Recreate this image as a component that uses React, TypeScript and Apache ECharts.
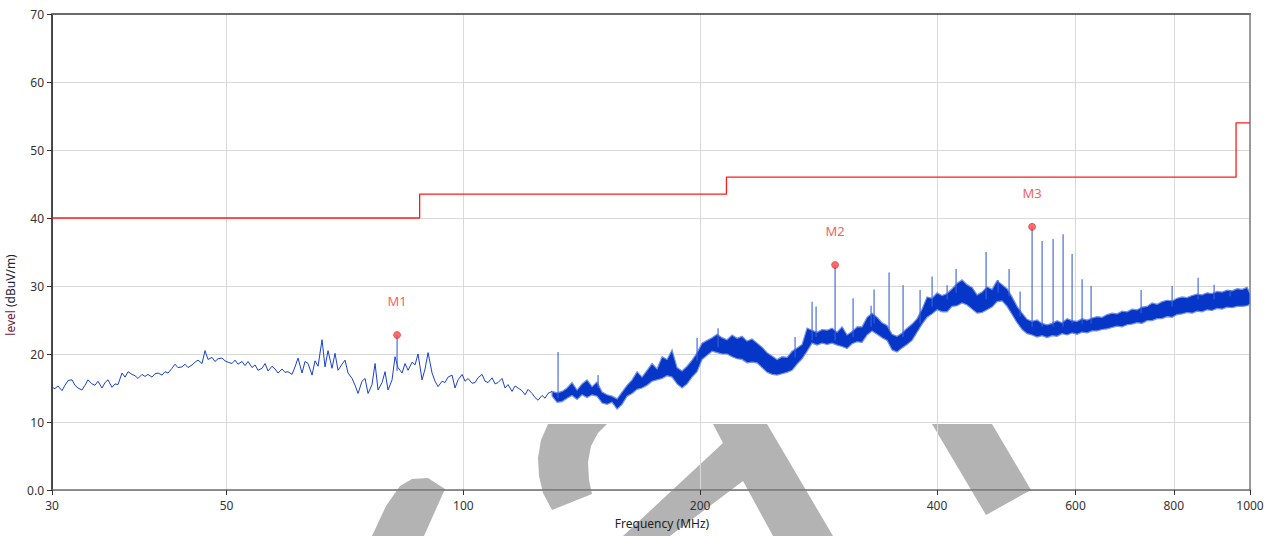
import { useEffect, useRef } from 'react';
import * as echarts from 'echarts';

// ---- axis ticks ----
const xTickValues = [30, 50, 100, 200, 400, 600, 800, 1000];
const yMin = 0;
const yMax = 70;
const yStep = 10;

// ---- limit line (step) ----
const limitFreq = [30, 88, 88, 216, 216, 960, 960, 1000];
const limitLevel = [40, 40, 43.5, 43.5, 46, 46, 54, 54];

// ---- low-frequency trace (thin line), MHz / dBuV/m ----
const traceFreq = [
  30.0, 30.26, 30.53, 30.89, 31.16, 31.44, 31.81, 32.09, 32.37, 32.75, 33.04, 33.33,
  33.73, 34.02, 34.32, 34.73, 35.04, 35.34, 35.76, 36.08, 36.39, 36.82, 37.15, 37.48,
  37.92, 38.25, 38.59, 39.04, 39.39, 39.73, 40.2, 40.56, 40.92, 41.4, 41.76, 42.13,
  42.63, 43.0, 43.38, 43.89, 44.28, 44.67, 45.2, 45.6, 46.0, 46.54, 46.95, 47.36,
  47.92, 48.34, 48.77, 49.35, 49.78, 50.22, 50.81, 51.26, 51.71, 52.32, 52.78, 53.25,
  53.88, 54.35, 54.83, 55.48, 55.97, 56.46, 57.12, 57.63, 58.14, 58.82, 59.34, 59.86,
  60.57, 61.1, 61.64, 62.37, 62.92, 63.47, 64.22, 64.79, 65.36, 66.13, 66.71, 67.3,
  68.09, 68.69, 69.3, 70.12, 70.73, 71.36, 72.2, 72.83, 73.48, 74.34, 75.0, 75.66,
  76.55, 77.23, 77.91, 78.83, 79.52, 80.22, 81.17, 81.88, 82.61, 83.58, 84.31, 85.06,
  86.06, 86.82, 87.58, 88.62, 89.4, 90.19, 91.25, 92.05, 92.87, 93.96, 94.79, 95.62,
  96.75, 97.6, 98.47, 99.63, 100.5, 101.39, 102.58, 103.49, 104.4, 105.63, 106.56, 107.5,
  108.77, 109.73, 110.7, 112.0, 112.99, 113.98, 115.33, 116.35, 117.37, 118.75, 119.8, 120.85,
  122.28, 123.36, 124.45, 125.91, 127.02, 128.14, 129.65
];
const traceLevel = [
  15.1, 14.9, 15.3, 14.6, 15.4, 16.1, 16.2, 15.4, 15.0, 14.7, 15.4, 16.2,
  15.6, 15.4, 16.0, 15.0, 15.8, 16.2, 15.1, 15.6, 15.5, 17.2, 16.6, 17.4,
  17.0, 16.8, 16.4, 17.0, 16.7, 17.0, 16.6, 17.1, 17.2, 16.9, 17.4, 17.2,
  17.9, 18.5, 18.0, 18.1, 18.5, 18.0, 18.4, 18.8, 19.1, 18.6, 20.5, 19.2,
  19.5, 18.9, 19.3, 19.4, 19.0, 18.8, 18.6, 19.1, 18.5, 18.9, 18.3, 18.9,
  18.0, 18.4, 17.6, 17.9, 18.6, 17.5, 18.2, 17.8, 17.2, 17.8, 17.3, 17.4,
  17.0, 18.1, 19.4, 17.2, 18.9, 18.6, 16.9, 19.0, 18.2, 22.1, 18.1, 20.5,
  17.9, 20.1, 17.6, 18.5, 19.1, 17.2, 16.4, 15.4, 14.2, 16.0, 16.4, 14.2,
  15.5, 18.6, 14.7, 15.8, 17.4, 14.7, 16.2, 19.6, 18.0, 17.2, 18.6, 17.6,
  18.8, 18.4, 20.0, 16.2, 17.8, 20.2, 17.2, 16.0, 15.2, 16.0, 15.8, 16.6,
  16.9, 15.0, 16.2, 17.0, 16.0, 16.4, 15.7, 15.8, 16.5, 17.0, 16.0, 15.8,
  16.5, 15.6, 15.8, 16.4, 15.0, 15.5, 14.5, 15.3, 15.0, 14.6, 14.0, 14.8,
  14.2, 13.6, 13.2, 13.9, 13.5, 14.2, 14.5
];

// ---- dense part of the sweep: min / max envelope per frequency ----
const bandFreq = [
  129.65, 131.56, 133.5, 135.47, 137.47, 139.5, 141.55, 143.64, 145.76, 147.91,
  150.09, 152.3, 154.55, 156.83, 159.14, 161.49, 163.87, 166.29, 168.73, 171.22,
  173.75, 176.31, 178.91, 181.55, 184.22, 186.94, 189.69, 192.49, 195.33, 198.21,
  201.13, 204.09, 207.1, 210.15, 213.25, 216.39, 219.59, 222.83, 226.11, 229.44,
  232.83, 236.26, 239.74, 243.27, 246.87, 250.51, 254.2, 257.95, 261.75, 265.61,
  269.53, 273.5, 277.53, 281.62, 285.78, 289.99, 294.27, 298.61, 303.01, 307.48,
  312.01, 316.61, 321.27, 326.01, 330.82, 335.7, 340.64, 345.66, 350.76, 355.93,
  361.18, 366.5, 371.91, 377.39, 382.96, 388.6, 394.34, 400.15, 406.05, 412.04,
  418.1, 424.26, 430.52, 436.87, 443.31, 449.84, 456.48, 463.21, 470.04, 476.97,
  484.0, 491.13, 498.38, 505.72, 513.19, 520.75, 528.43, 536.22, 544.13, 552.15,
  560.29, 568.55, 576.94, 585.44, 594.08, 602.84, 611.72, 620.74, 629.89, 639.17,
  648.6, 658.16, 667.87, 677.71, 687.71, 697.85, 708.14, 718.58, 729.17, 739.92,
  750.83, 761.9, 773.14, 784.54, 796.1, 807.83, 819.75, 831.83, 844.1, 856.54,
  869.18, 881.99, 895.0, 908.19, 921.58, 935.16, 948.96, 962.95, 977.15, 991.55,
  1000
];
const bandLo = [
  13.8, 12.9, 13.0, 13.5, 13.9, 13.3, 14.0, 13.6, 14.0, 13.8,
  12.8, 12.6, 12.9, 11.9, 12.6, 13.8, 14.2, 14.8, 15.0, 15.4,
  16.0, 16.2, 16.4, 16.8, 16.6, 15.6, 15.0, 15.6, 16.6, 17.4,
  19.2, 19.8, 20.4, 20.2, 20.0, 20.0, 19.6, 19.3, 19.2, 18.7,
  18.8, 18.7, 18.0, 17.3, 17.0, 16.9, 17.1, 17.3, 17.6, 18.5,
  19.3, 20.4, 21.6, 21.3, 21.6, 21.4, 21.6, 21.3, 21.1, 20.8,
  21.5, 21.8, 21.7, 22.8, 23.4, 22.9, 22.4, 22.0, 20.6, 20.3,
  20.9, 21.4, 22.0, 23.2, 24.4, 25.4, 25.9, 26.5, 26.2, 26.2,
  27.0, 27.1, 27.5, 27.2, 26.6, 26.0, 26.1, 26.5, 26.9, 27.7,
  27.8, 27.0, 25.8, 24.6, 23.6, 23.0, 22.8, 22.5, 22.7, 22.4,
  22.7, 22.6, 23.0, 22.8, 23.1, 22.9, 23.2, 23.1, 23.4, 23.4,
  23.6, 23.7, 23.9, 24.1, 24.0, 24.3, 24.4, 24.6, 24.5, 24.9,
  24.9, 25.2, 25.2, 25.5, 25.4, 25.8, 25.9, 26.1, 26.0, 26.3,
  26.2, 26.5, 26.4, 26.7, 26.6, 26.9, 26.8, 27.0, 27.0, 27.1,
  27.3
];
const bandHi = [
  14.5, 14.3, 14.5, 15.0, 15.8, 14.7, 15.6, 16.2, 15.2, 15.9,
  14.4, 14.0, 13.8, 13.4, 14.4, 15.4, 16.2, 17.4, 16.6, 17.6,
  18.6, 17.8, 19.6, 19.2, 20.6, 18.0, 17.5, 18.2, 19.1, 20.2,
  21.6, 22.0, 22.4, 22.9, 22.4, 22.1, 22.8, 22.3, 22.6, 21.9,
  22.2, 21.6, 21.0, 20.2, 19.7, 19.2, 19.6, 19.5, 20.4, 20.9,
  21.4, 23.8, 23.5, 23.2, 23.6, 23.5, 23.8, 23.2, 24.0, 22.8,
  23.3, 24.0, 24.0, 25.4, 26.0, 25.4, 24.6, 24.2, 22.9, 22.6,
  23.1, 23.8, 24.4, 25.2, 26.6, 28.4, 28.2, 29.0, 28.6, 28.9,
  29.6, 30.4, 30.9, 30.2, 29.8, 28.7, 29.1, 29.9, 29.5, 30.8,
  30.2, 29.6, 28.4, 27.0, 26.0, 25.1, 24.8, 25.0, 24.5, 24.3,
  24.5, 24.9, 24.6, 25.2, 24.9, 24.8, 25.2, 25.0, 25.3, 25.5,
  25.4, 25.8, 26.0, 25.9, 26.3, 26.2, 26.6, 26.5, 26.9, 27.0,
  27.5, 27.3, 27.7, 27.9, 27.8, 28.2, 28.4, 28.3, 28.6, 28.8,
  28.7, 29.0, 28.9, 29.2, 29.1, 29.4, 29.3, 29.6, 29.5, 29.8,
  28.9
];

// ---- narrow emission spikes ----
const spikeFreq = [
  82.37, 131.95, 148.34, 198.21, 210.77, 264.06, 277.53, 280.8, 296.87, 312.92,
  329.85, 332.76, 347.69, 362.24, 380.72, 394.34, 412.04, 423.03, 461.86, 478.37,
  494.02, 510.19, 528.43, 544.13, 561.93, 578.63, 594.08, 611.72, 628.05, 727.04,
  796.1, 859.06, 900.25, 943.42
];
const spikeBase = [
  17.5, 13.5, 15.0, 19.0, 21.0, 19.5, 22.0, 22.5, 22.0, 22.5,
  24.0, 24.5, 23.5, 22.5, 24.5, 27.0, 28.0, 29.0, 28.0, 29.0,
  28.5, 25.5, 24.0, 24.0, 24.0, 24.0, 24.5, 24.5, 24.5, 26.0,
  27.0, 28.0, 28.0, 28.5
];
const spikePeak = [
  22.8, 20.3, 16.9, 22.4, 23.8, 22.5, 27.7, 27.0, 33.1, 28.2,
  27.1, 29.5, 32.0, 30.1, 29.4, 31.4, 30.1, 32.5, 35.0, 30.9,
  32.5, 29.2, 38.7, 36.6, 36.9, 37.6, 34.7, 31.0, 30.0, 29.4,
  30.0, 31.2, 30.2, 29.4
];

// ---- markers ----
const markerNames = ['M1', 'M2', 'M3'];
const markerFreq = [82.37, 296.87, 528.43];
const markerLevel = [22.8, 33.1, 38.7];

const FONT = '"Noto Sans", "Open Sans", sans-serif';

export default function App() {
  const ref = useRef<HTMLDivElement>(null);

  useEffect(() => {
    if (!ref.current) return;
    const chart = echarts.init(ref.current, null, { renderer: 'svg' });

    const option: any = {
      animation: false,
      backgroundColor: '#ffffff',
      textStyle: { fontFamily: FONT },
      grid: { left: 52, right: 22, top: 14, bottom: 46, containLabel: false, outerBoundsMode: 'none' },
      graphic: [
        {
          type: 'polygon', z: -10, silent: true,
          shape: { points: [[400, 486], [412, 479], [428, 478], [445, 489], [424, 536], [372, 536], [386, 506]] },
          style: { fill: '#b3b3b3' }
        },
        {
          type: 'polygon', z: -10, silent: true,
          shape: { points: [[548, 424], [541, 440], [538, 458], [539, 476], [543, 493], [552, 510], [592, 494], [589, 480], [588, 462], [591, 446], [598, 433], [607, 424]] },
          style: { fill: '#b3b3b3' }
        },
        {
          type: 'polygon', z: -10, silent: true,
          shape: { points: [[713, 424], [767, 424], [833, 536], [773, 536], [743, 481], [670, 536], [623, 536], [723, 443]] },
          style: { fill: '#b3b3b3' }
        },
        {
          type: 'polygon', z: -10, silent: true,
          shape: { points: [[932, 424], [992, 424], [1031, 490], [986, 515]] },
          style: { fill: '#b3b3b3' }
        }
      ],
      xAxis: [
        {
          type: 'log', logBase: 10, min: 30, max: 1000,
          name: 'Frequency (MHz)', nameLocation: 'middle', nameGap: 27,
          nameTextStyle: { color: '#222', fontSize: 12, fontFamily: FONT, padding: [0, 0, 0, 22] },
          axisLine: { show: true, lineStyle: { color: '#6e6e6e', width: 1.5 } },
          axisTick: { show: true, customValues: xTickValues, length: 5, lineStyle: { color: '#333' } },
          axisLabel: {
            customValues: xTickValues, margin: 9, color: '#333', fontSize: 12, fontFamily: FONT,
            formatter: (v: number) => String(Math.round(v))
          },
          splitLine: { show: true, lineStyle: { color: '#d9d9d9', width: 1 } },
          minorTick: { show: false }, minorSplitLine: { show: false }
        },
        {
          type: 'log', logBase: 10, min: 30, max: 1000, position: 'top',
          axisLine: { show: true, onZero: false, lineStyle: { color: '#6a6a6a', width: 2 } },
          axisTick: { show: false }, axisLabel: { show: false }, splitLine: { show: false }
        }
      ],
      yAxis: [
        {
          type: 'value', min: yMin, max: yMax, interval: yStep,
          name: '{a|level} {b|(dBuV/m)}', nameLocation: 'middle', nameGap: 32,
          nameTextStyle: {
            fontSize: 12, fontFamily: FONT, padding: [0, 86, 0, 0],
            rich: {
              a: { color: '#6e1a36', fontSize: 12, fontFamily: FONT },
              b: { color: '#22223a', fontSize: 12, fontFamily: FONT }
            }
          },
          axisLine: { show: true, lineStyle: { color: '#111', width: 1.5 } },
          axisTick: { show: true, length: 5, lineStyle: { color: '#333' } },
          axisLabel: {
            margin: 8, color: '#333', fontSize: 12, fontFamily: FONT,
            formatter: (v: number) => (v === 0 ? '0.0' : String(v))
          },
          splitLine: { show: true, lineStyle: { color: '#d9d9d9', width: 1 } }
        },
        {
          type: 'value', min: yMin, max: yMax, interval: yStep, position: 'right',
          axisLine: { show: true, onZero: false, lineStyle: { color: '#9a9a9a', width: 2 } },
          axisTick: { show: false }, axisLabel: { show: false }, splitLine: { show: false }
        }
      ],
      series: [
        {
          name: 'Limit', type: 'line', xAxisIndex: 0, yAxisIndex: 0, z: 3,
          showSymbol: false, silent: true,
          data: limitFreq.map((f, i) => [f, limitLevel[i]]),
          lineStyle: { color: '#ff1a1a', width: 1.3 }
        },
        {
          name: 'Trace', type: 'line', xAxisIndex: 0, yAxisIndex: 0, z: 4,
          showSymbol: false, silent: true,
          data: traceFreq.map((f, i) => [f, traceLevel[i]]),
          lineStyle: { color: '#1841d2', width: 1 }
        },
        {
          name: 'TraceEnvelope', type: 'custom', xAxisIndex: 0, yAxisIndex: 0, z: 4,
          silent: true,
          data: [[bandFreq[0], bandLo[0]]],
          encode: { x: 0, y: 1 },
          renderItem: (_params: any, api: any) => {
            const upper = bandFreq.map((f, i) => api.coord([f, bandHi[i]]));
            const lower = bandFreq.map((f, i) => api.coord([f, bandLo[i]])).reverse();
            return {
              type: 'polygon',
              shape: { points: upper.concat(lower) },
              style: { fill: '#0636c8', stroke: '#7391e4', lineWidth: 1.2 }
            };
          }
        },
        {
          name: 'Spikes', type: 'custom', xAxisIndex: 0, yAxisIndex: 0, z: 5,
          silent: true,
          data: spikeFreq.map((f, i) => [f, spikeBase[i], spikePeak[i]]),
          encode: { x: 0, y: [1, 2] },
          renderItem: (_params: any, api: any) => {
            const a = api.coord([api.value(0), api.value(1)]);
            const b = api.coord([api.value(0), api.value(2)]);
            return {
              type: 'line',
              shape: { x1: a[0], y1: a[1], x2: b[0], y2: b[1] },
              style: { stroke: '#3a5fd8', lineWidth: 1.1 }
            };
          }
        },
        {
          name: 'Markers', type: 'scatter', xAxisIndex: 0, yAxisIndex: 0, z: 6,
          silent: true, symbol: 'circle', symbolSize: 7,
          data: markerFreq.map((f, i) => ({ value: [f, markerLevel[i]], name: markerNames[i] })),
          itemStyle: { color: '#ff4a4a', borderColor: '#e00000', borderWidth: 0.6 },
          label: {
            show: true, position: 'top', distance: 24,
            formatter: (p: any) => p.name,
            color: '#ff3030', fontSize: 13, fontFamily: FONT
          }
        }
      ]
    };

    chart.setOption(option);
    return () => chart.dispose();
  }, []);

  return (
    <div
      ref={ref}
      style={{ position: 'absolute', left: 0, top: 0, width: 1272, height: 536, background: '#fff' }}
    />
  );
}
